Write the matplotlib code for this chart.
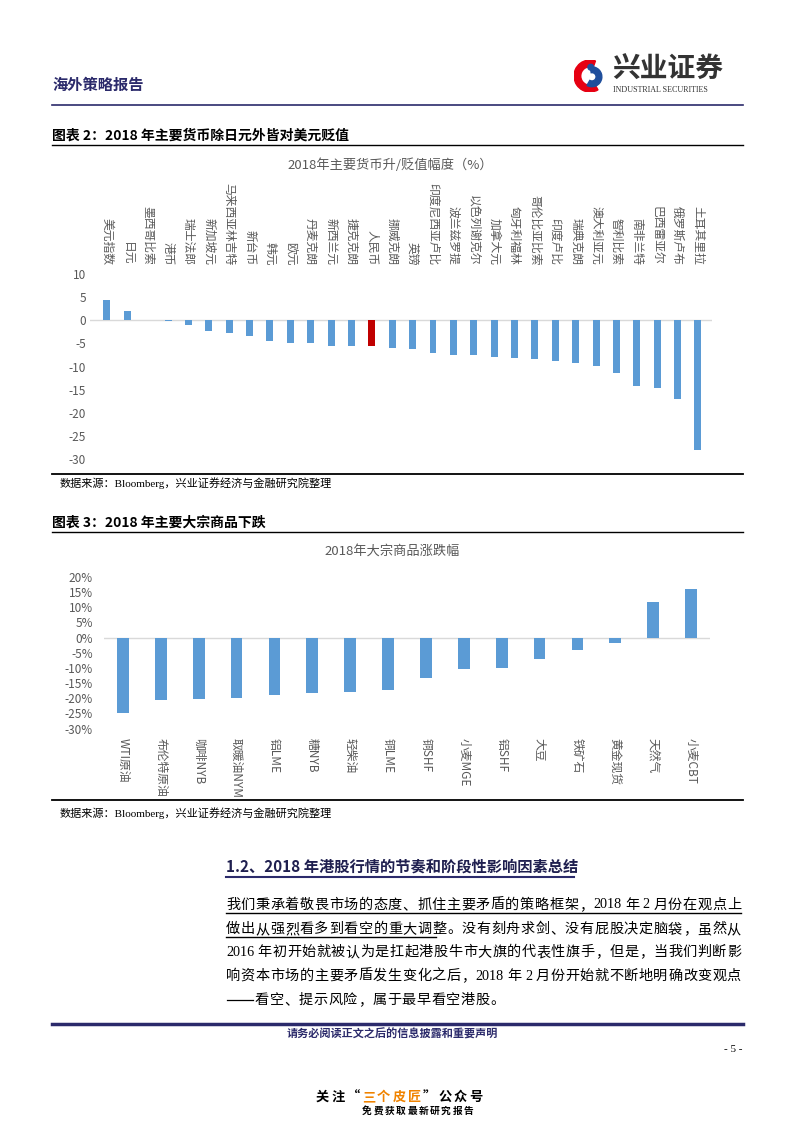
import re
import numpy as np
import matplotlib.pyplot as plt
from matplotlib.patches import Wedge, Circle

plt.rcParams['font.family'] = ['Noto Sans CJK SC', 'DejaVu Sans']
plt.rcParams['axes.unicode_minus'] = False

W, H = 793, 1122

# 图表2：2018年主要货币升/贬值幅度（%）
currencies = ['美元指数', '日元', '墨西哥比索', '港币', '瑞士法郎', '新加坡元', '马来西亚林吉特',
              '新台币', '韩元', '欧元', '丹麦克朗', '新西兰元', '捷克克朗', '人民币', '挪威克朗',
              '英镑', '印度尼西亚卢比', '波兰兹罗提', '以色列谢克尔', '加拿大元', '匈牙利福林',
              '哥伦比亚比索', '印度卢比', '瑞典克朗', '澳大利亚元', '智利比索', '南非兰特',
              '巴西雷亚尔', '俄罗斯卢布', '土耳其里拉']
fx_change = [4.4, 2.0, 0.05, -0.2, -1.0, -2.3, -2.7, -3.3, -4.5, -4.9, -5.0, -5.5, -5.5, -5.5,
             -5.9, -6.2, -7.1, -7.5, -7.6, -7.9, -8.1, -8.4, -8.8, -9.2, -9.9, -11.4, -14.3,
             -14.6, -17.1, -28.1]
fx_ticks = [10, 5, 0, -5, -10, -15, -20, -25, -30]

# 图表3：2018年大宗商品涨跌幅（%）
commodities = ['WTI原油', '布伦特原油', '咖啡NYB', '取暖油NYM', '铝LME', '糖NYB', '轻柴油', '铜LME',
               '铜SHF', '小麦MGE', '铝SHF', '大豆', '铁矿石', '黄金现货', '天然气', '小麦CBT']
cmdty_change = [-25.0, -20.5, -20.1, -19.9, -18.8, -18.3, -17.9, -17.2, -13.3, -10.4, -10.0,
                -6.9, -4.0, -1.9, 11.8, 16.1]
cmdty_ticks = [20, 15, 10, 5, 0, -5, -10, -15, -20, -25, -30]

paragraph = [
    '我们秉承着敬畏市场的态度、抓住主要矛盾的策略框架，2018 年 2 月份在观点上',
    '做出从强烈看多到看空的重大调整。没有刻舟求剑、没有屁股决定脑袋，虽然从',
    '2016 年初开始就被认为是扛起港股牛市大旗的代表性旗手，但是，当我们判断影',
    '响资本市场的主要矛盾发生变化之后，2018 年 2 月份开始就不断地明确改变观点',
    '——看空、提示风险，属于最早看空港股。',
]

navy = '#2B2A6B'
gray = '#595959'
blue = '#5B9BD5'
serif_cjk = ['Liberation Serif', 'Noto Sans CJK SC']

fig = plt.figure(figsize=(W / 100, H / 100), dpi=100)
renderer = fig.canvas.get_renderer()


def fx(x):
    return x / W


def fy(y):
    return 1 - y / H


def txt(x, y, s, **kw):
    return fig.text(fx(x), fy(y), s, **kw)


def hline(y, x0=52, x1=743, color='black', lw=1.0):
    fig.add_artist(plt.Line2D([fx(x0), fx(x1)], [fy(y), fy(y)], color=color, lw=lw))


def box(l, t, r, b):
    return fig.add_axes([fx(l), fy(b), (r - l) / W, (b - t) / H])


def spaced(x0, y, s, size, gap=None, x1=None):
    # lay a line out token by token, either justified to x1 or with a fixed gap
    em = size * 100 / 72
    tokens = re.findall(r'[A-Za-z0-9]+|—+|.', s)
    items, widths = [], []
    for t in tokens:
        if t == ' ':
            items.append(None)
            widths.append(2.5)
            continue
        if t.isascii():
            a = txt(x0, y, t, va='center', ha='left', fontsize=size, family='Liberation Serif')
            w = a.get_window_extent(renderer).width
        elif t.startswith('—'):
            a = None
            w = em * len(t)
            fig.add_artist(plt.Line2D([fx(x0), fx(x0)], [fy(y), fy(y)], color='black', lw=0.9))
            items.append(('dash', w))
            widths.append(w)
            continue
        else:
            a = txt(x0, y, t, va='center', ha='left', fontsize=size, family='Noto Sans CJK SC')
            w = em
        items.append(a)
        widths.append(w)
    if gap is None:
        gap = (x1 - x0 - sum(widths)) / (len(items) - 1)
    x = x0
    for a, w in zip(items, widths):
        if isinstance(a, tuple):
            hline(y, x + 1, x + w - 1, lw=0.9)
        elif a is not None:
            a.set_x(fx(x))
        x += w + gap
    return gap


# header
txt(52, 85, '海外策略报告', fontsize=11, fontweight='bold', color=navy, va='center')
lax = box(574, 60, 606, 92)
lax.set_xlim(-1, 1)
lax.set_ylim(-1, 1)
lax.set_aspect('equal')
lax.axis('off')
lax.add_patch(Wedge((0, 0), 1, 70, 300, width=0.42, color='#E60012'))
lax.add_patch(Wedge((0.12, -0.05), 0.62, -120, 100, width=0.36, color='#1F4E9C'))
lax.add_patch(Circle((0.05, 0.55), 0.18, color='#1F4E9C'))
txt(612, 70, '兴业证券', fontsize=20, fontweight='bold', color='#333333', va='center')
txt(613, 90, 'INDUSTRIAL SECURITIES', fontsize=5.8, family='Liberation Serif',
    color='#333333', va='center')
hline(105, color=navy, lw=1.2)

# chart 2
txt(52, 136, '图表 2：2018 年主要货币除日元外皆对美元贬值', fontsize=10, fontweight='bold', va='center')
hline(145)
txt(390, 165, '2018年主要货币升/贬值幅度（%）', ha='center', va='center', fontsize=9.5, color=gray)

ax1 = box(90, 268, 712, 465)
x1 = np.arange(len(currencies))
colors = ['#C00000' if c == '人民币' else blue for c in currencies]
ax1.bar(x1, fx_change, width=0.34, color=colors, zorder=2)
ax1.axhline(0, color='#D9D9D9', lw=1, zorder=1)
ax1.set_xlim(-0.83, 29.69)
ax1.set_ylim(-31.3, 11.3)
ax1.set_yticks(fx_ticks, [str(t) for t in fx_ticks])
ax1.set_xticks([])
ax1.tick_params(axis='y', length=0, pad=3, labelsize=8.5, labelcolor=gray)
for s in ax1.spines.values():
    s.set_visible(False)
for xi, name in zip(x1, currencies):
    ax1.text(xi, 1.015, name, transform=ax1.get_xaxis_transform(), rotation=270,
             ha='center', va='bottom', fontsize=8.5, color=gray)

hline(474, lw=1.3)
txt(60, 483, '数据来源：Bloomberg，兴业证券经济与金融研究院整理', fontsize=8, va='center',
    family=serif_cjk)

# chart 3
txt(52, 523, '图表 3：2018 年主要大宗商品下跌', fontsize=10, fontweight='bold', va='center')
hline(532)
txt(392, 551, '2018年大宗商品涨跌幅', ha='center', va='center', fontsize=9.5, color=gray)

ax2 = box(104, 570, 710, 735)
x2 = np.arange(len(commodities))
ax2.bar(x2, cmdty_change, width=0.31, color=blue, zorder=2)
ax2.axhline(0, color='#D9D9D9', lw=1, zorder=1)
ax2.set_xlim(-0.5, 15.5)
ax2.set_ylim(-32.1, 22.3)
ax2.set_yticks(cmdty_ticks, [f'{t}%' for t in cmdty_ticks])
ax2.set_xticks([])
ax2.tick_params(axis='y', length=0, pad=8, labelsize=8.5, labelcolor=gray)
for s in ax2.spines.values():
    s.set_visible(False)
for xi, name in zip(x2, commodities):
    ax2.text(xi, -0.02, name, transform=ax2.get_xaxis_transform(), rotation=270,
             ha='center', va='top', fontsize=8.5, color=gray)

hline(800, lw=1.3)
txt(60, 813, '数据来源：Bloomberg，兴业证券经济与金融研究院整理', fontsize=8, va='center',
    family=serif_cjk)

# section text
txt(226, 867, '1.2、2018 年港股行情的节奏和阶段性影响因素总结', fontsize=11, fontweight='bold',
    color='#1F1F4F', va='center')
hline(877, 226, 574, color=navy, lw=1.5)
line_y = [905, 929, 952, 976, 1000]
gaps = []
for yy, line in zip(line_y[:4], paragraph[:4]):
    gaps.append(spaced(226, yy, line, 10.2, x1=741))
spaced(226, line_y[4], paragraph[4], 10.2, gap=np.mean(gaps))
hline(913, 226, 741, color='black', lw=1)
hline(937, 226, 436, color='black', lw=1)

# footer
hline(1024, color=navy, lw=2.5)
txt(392, 1034, '请务必阅读正文之后的信息披露和重要声明', ha='center', va='center', fontsize=8,
    fontweight='bold', color=navy)
txt(742, 1050, '- 5 -', ha='right', va='center', fontsize=8, family='Liberation Serif')
follow = '关注“三个皮匠”公众号'
for i, ch in enumerate(follow):
    c = '#F08300' if 3 <= i <= 6 else 'black'
    txt(316 + i * 15.3, 1097, ch, fontsize=9.5, fontweight='bold', va='center', color=c)
for i, ch in enumerate('免费获取最新研究报告'):
    txt(362 + i * 11.3, 1111, ch, fontsize=7, fontweight='bold', va='center')

fig.savefig('out.png', dpi=100)
